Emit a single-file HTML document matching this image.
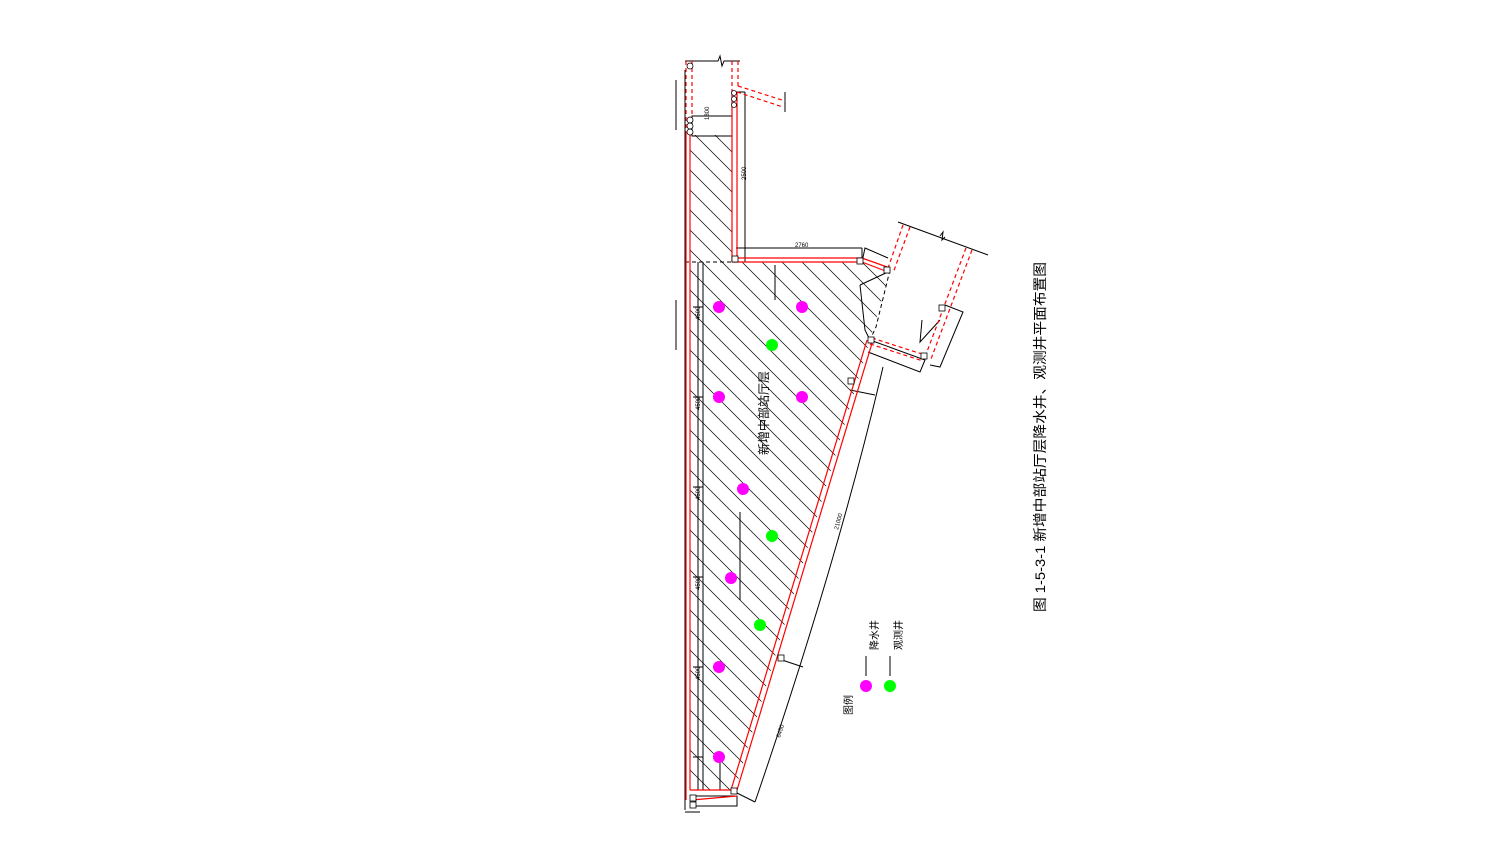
<!DOCTYPE html>
<html><head><meta charset="utf-8"><style>
html,body{margin:0;padding:0;background:#fff;}
svg{display:block;}
text{font-family:"Liberation Sans","Noto Sans CJK SC",sans-serif;}
</style></head><body>
<svg width="1488" height="866" viewBox="0 0 1488 866" xmlns="http://www.w3.org/2000/svg">
<defs>
<pattern id="h" patternUnits="userSpaceOnUse" width="20" height="20">
<path d="M-5,-5 L25,25 M-5,15 L5,25 M15,-5 L25,5" stroke="#000" stroke-width="0.7"/>
</pattern>
</defs>
<polygon points="690,135 732,135 732,262 690,262" fill="url(#h)"/>
<polygon points="690,262 862,262 890,272 870,340 735,790 690,790" fill="url(#h)"/>
<g fill="none" stroke="#000" stroke-width="1">
<path d="M685,61 L718,61 L720,56 L722,66 L724,61 L740,61"/>
<rect x="692" y="116" width="40" height="20"/>
<line x1="745" y1="92" x2="745" y2="262"/>
<line x1="736" y1="92" x2="745" y2="92"/>
<line x1="785" y1="92" x2="785" y2="112"/>
<line x1="685" y1="70" x2="685" y2="810"/>
<line x1="685" y1="262" x2="736" y2="262" stroke-dasharray="4,3"/>
<line x1="736" y1="248" x2="862" y2="248"/>
<line x1="862" y1="248" x2="862" y2="262"/>
<line x1="698" y1="262" x2="698" y2="790"/>
<line x1="703" y1="262" x2="703" y2="790"/>
<line x1="693" y1="307" x2="703" y2="307"/><line x1="693" y1="397" x2="703" y2="397"/>
<line x1="693" y1="487" x2="703" y2="487"/><line x1="693" y1="577" x2="703" y2="577"/>
<line x1="693" y1="667" x2="703" y2="667"/><line x1="693" y1="757" x2="703" y2="757"/>
<line x1="676" y1="80" x2="676" y2="130"/><line x1="676" y1="300" x2="676" y2="350"/>
<line x1="898" y1="222" x2="988" y2="255"/>
<path d="M940,236 l3,-4 l-1,8 l3,-3"/>
<path d="M890,270 L876,327 L870,340" stroke-dasharray="4,3"/>
<path d="M862,262 L865,248 L888,258"/>
<path d="M870,340 L925,360 L920,372 L868,352"/>
<path d="M945,305 L963,312 L940,367 L930,365"/>
<path d="M922,320 L920,342 L940,320"/>
<path d="M860,285 L865,330 L870,340"/>
<path d="M860,285 L888,272"/>
<path d="M883,367 Q838,560 755,802"/>
<line x1="735" y1="792" x2="755" y2="802"/>
<line x1="850" y1="390" x2="875" y2="395"/>
<line x1="782" y1="660" x2="803" y2="667"/>
<line x1="775" y1="265" x2="775" y2="300"/>
<line x1="740" y1="512" x2="740" y2="600"/>
<rect x="695" y="796" width="42" height="10"/>
<line x1="685" y1="812" x2="700" y2="812"/>
<line x1="720" y1="760" x2="720" y2="790"/>
</g>
<g fill="none" stroke="#f00" stroke-width="1.2">
<line x1="686" y1="135" x2="686" y2="800"/>
<line x1="690" y1="135" x2="690" y2="790"/>
<line x1="732" y1="92" x2="732" y2="262"/>
<line x1="737" y1="92" x2="737" y2="258"/>
<line x1="737" y1="258" x2="862" y2="258"/>
<line x1="732" y1="262" x2="862" y2="262"/>
<line x1="862" y1="262" x2="888" y2="272"/>
<line x1="862" y1="258" x2="890" y2="268"/>
<line x1="867" y1="340" x2="731" y2="790"/>
<line x1="873" y1="340" x2="737" y2="790"/>
<line x1="690" y1="790" x2="737" y2="790"/>
<line x1="692" y1="800" x2="737" y2="796"/>
</g>
<g fill="none" stroke="#f00" stroke-width="1.2" stroke-dasharray="4,3">
<line x1="686" y1="61" x2="686" y2="135"/><line x1="692" y1="61" x2="692" y2="135"/>
<line x1="732" y1="61" x2="732" y2="92"/><line x1="738" y1="61" x2="738" y2="86"/>
<line x1="738" y1="86" x2="785" y2="101"/><line x1="737" y1="92" x2="783" y2="107"/>
<line x1="903" y1="225" x2="887" y2="271"/><line x1="910" y1="227" x2="893" y2="273"/>
<line x1="966" y1="248" x2="925" y2="357"/><line x1="972" y1="250" x2="931" y2="359"/>
<line x1="872" y1="338" x2="925" y2="355"/><line x1="870" y1="344" x2="923" y2="361"/>
</g>
<g fill="#fff" stroke="#000" stroke-width="0.8">
<circle cx="690" cy="66" r="3"/><circle cx="690" cy="120" r="3"/><circle cx="690" cy="126" r="3"/><circle cx="690" cy="132" r="3"/>
<circle cx="734" cy="93" r="2.5"/><circle cx="734" cy="99" r="2.5"/><circle cx="734" cy="105" r="2.5"/>
<rect x="732" y="256" width="6" height="6"/><rect x="857" y="258" width="6" height="6"/><rect x="884" y="267" width="6" height="6"/>
<rect x="868" y="337" width="6" height="6"/><rect x="921" y="353" width="6" height="6"/><rect x="939" y="305" width="6" height="6"/>
<rect x="848" y="378" width="6" height="6"/><rect x="778" y="655" width="6" height="6"/><rect x="731" y="788" width="6" height="6"/>
<rect x="690" y="795" width="6" height="6"/><rect x="690" y="802" width="6" height="6"/>
</g>
<g fill="#f0f">
<circle cx="719" cy="307" r="6"/><circle cx="802" cy="307" r="6"/><circle cx="719" cy="397" r="6"/><circle cx="802" cy="397" r="6"/>
<circle cx="743" cy="489" r="6"/><circle cx="731" cy="578" r="6"/><circle cx="719" cy="667" r="6"/><circle cx="719" cy="757" r="6"/>
<circle cx="866" cy="686" r="6"/>
</g>
<g fill="#0f0">
<circle cx="772" cy="345" r="6"/><circle cx="772" cy="536" r="6"/><circle cx="760" cy="625" r="6"/><circle cx="890" cy="686" r="6"/>
</g>
<line x1="866" y1="656" x2="866" y2="676" stroke="#000"/>
<line x1="890" y1="656" x2="890" y2="676" stroke="#000"/>
<g font-size="6" fill="#000">
<text transform="translate(709,120) rotate(-90)">1800</text>
<text transform="translate(746,180) rotate(-90)">2500</text>
<text transform="translate(795,247)">2760</text>
<text transform="translate(700,320) rotate(-90)">4500</text>
<text transform="translate(700,410) rotate(-90)">4500</text>
<text transform="translate(700,500) rotate(-90)">4500</text>
<text transform="translate(700,590) rotate(-90)">4500</text>
<text transform="translate(700,680) rotate(-90)">4500</text>
<text transform="translate(838,530) rotate(-75)">21000</text>
<text transform="translate(780,738) rotate(-72)">6450</text>
</g>
<text transform="translate(768,455) rotate(-90)" font-size="12">新增中部站厅层</text>
<text transform="translate(878,650) rotate(-90)" font-size="10">降水井</text>
<text transform="translate(902,650) rotate(-90)" font-size="10">观测井</text>
<text transform="translate(852,715) rotate(-90)" font-size="10">图例</text>
<text transform="translate(1045,612) rotate(-90)" font-size="14" textLength="350" lengthAdjust="spacingAndGlyphs">图 1-5-3-1 新增中部站厅层降水井、观测井平面布置图</text>
</svg>
</body></html>
